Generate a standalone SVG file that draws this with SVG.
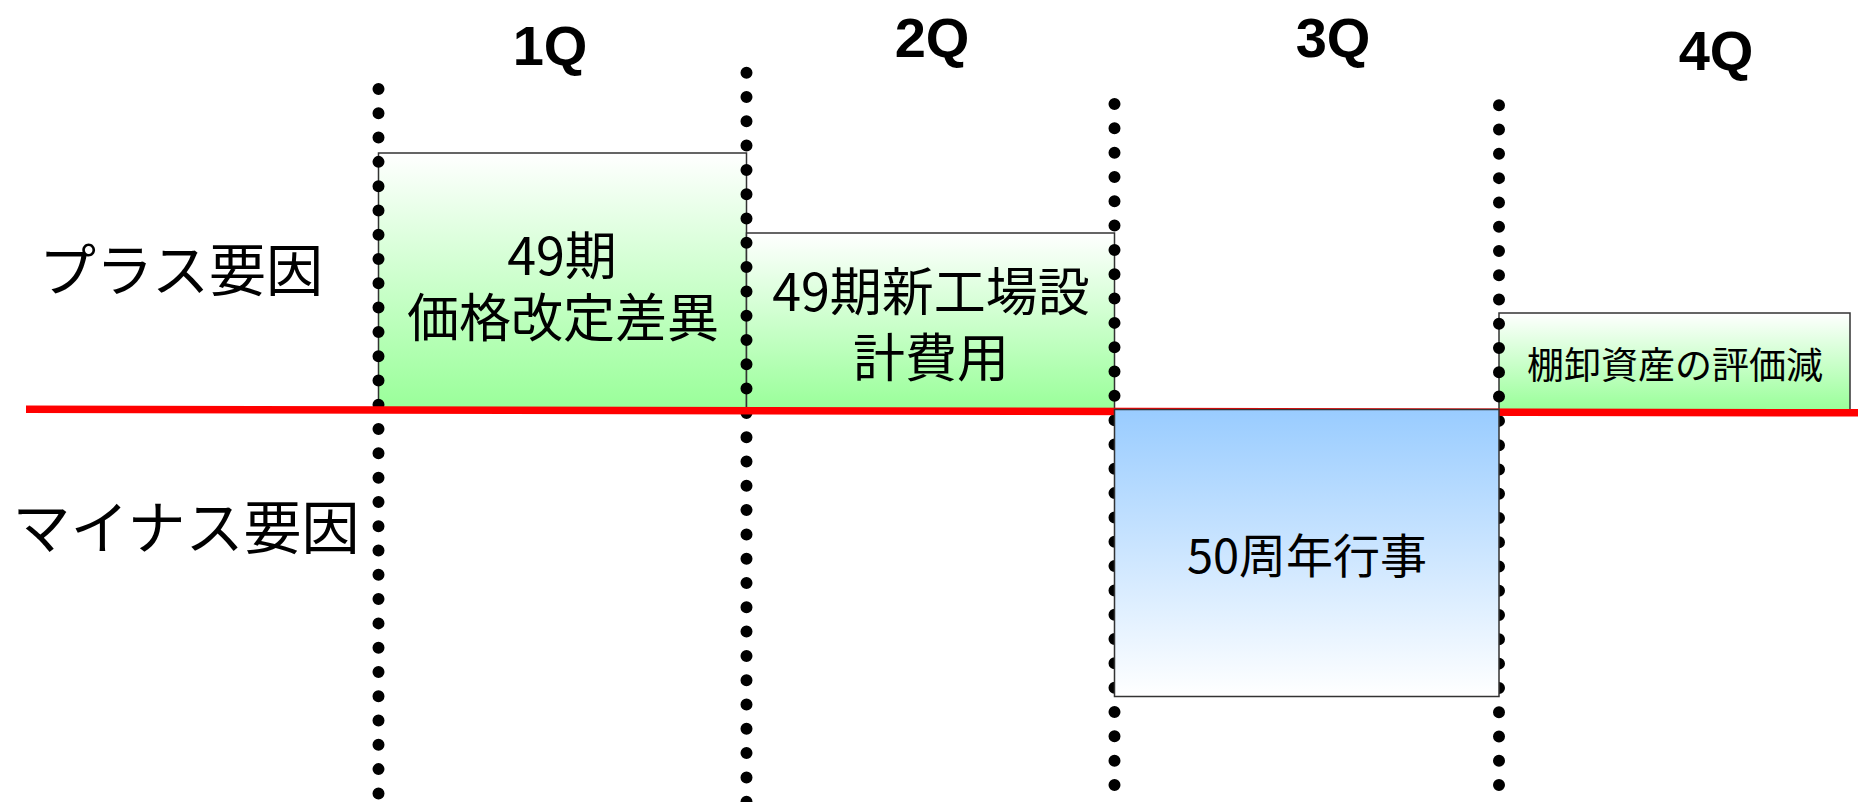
<svg xmlns="http://www.w3.org/2000/svg" width="1858" height="802" viewBox="0 0 1858 802">
<defs>
<linearGradient id="gGreen" x1="0" y1="0" x2="0" y2="1">
<stop offset="0" stop-color="#ffffff"/>
<stop offset="1" stop-color="#99ff99"/>
</linearGradient>
<linearGradient id="gBlue" x1="0" y1="0" x2="0" y2="1">
<stop offset="0" stop-color="#99ccff"/>
<stop offset="1" stop-color="#ffffff"/>
</linearGradient>
<style>
.q{font-family:"Liberation Sans",Arial,sans-serif;font-weight:bold;font-size:56px;fill:#000;text-anchor:middle}
.jp{font-family:"Noto Sans CJK JP","Noto Sans",sans-serif;fill:#000;text-anchor:middle}
.box{stroke:#333;stroke-width:1.5}
.green{fill:url(#gGreen)}
.blue{fill:url(#gBlue)}
.dot{stroke:#000;stroke-width:12;stroke-linecap:round;fill:none}
</style>
</defs>
<rect width="1858" height="802" fill="#fff"/>

<g id="headers">
<text class="q" x="550" y="65">1Q</text>
<text class="q" x="932" y="57">2Q</text>
<text class="q" x="1333" y="57">3Q</text>
<text class="q" x="1716" y="70">4Q</text>
</g>

<g id="labels">
<text class="jp" x="181" y="291" font-size="57">プラス要因</text>
<text class="jp" x="186" y="549" font-size="58">マイナス要因</text>
</g>

<g id="node-1q">
<rect class="box green" x="378.5" y="153" width="368" height="257"/>
<text class="jp" font-size="52"><tspan x="562" y="275">49期</tspan><tspan x="563" y="337">価格改定差異</tspan></text>
</g>

<g id="node-2q">
<rect class="box green" x="746.5" y="233" width="368" height="177"/>
<text class="jp" font-size="52"><tspan x="931" y="311">49期新工場設</tspan><tspan x="931" y="377">計費用</tspan></text>
</g>

<g id="node-4q">
<rect class="box green" x="1499" y="313" width="351" height="97"/>
<text class="jp" x="1675" y="379" font-size="37">棚卸資産の評価減</text>
</g>

<g id="connectors">
<line class="dot" x1="378.5" y1="89" x2="378.5" y2="794.5" stroke-dasharray="0 24.29"/>
<line class="dot" x1="746.5" y1="72.7" x2="746.5" y2="802.5" stroke-dasharray="0 24.3"/>
<line class="dot" x1="1114.5" y1="104" x2="1114.5" y2="786" stroke-dasharray="0 24.32"/>
<line class="dot" x1="1499" y1="105.3" x2="1499" y2="786" stroke-dasharray="0 24.275"/>
<line x1="26" y1="409.3" x2="1858" y2="412.8" stroke="#ff0000" stroke-width="7.5"/>
</g>

<g id="node-3q">
<rect class="box blue" x="1114.5" y="409.5" width="384.5" height="287"/>
<text class="jp" x="1307" y="573" font-size="47">50周年行事</text>
</g>
</svg>
